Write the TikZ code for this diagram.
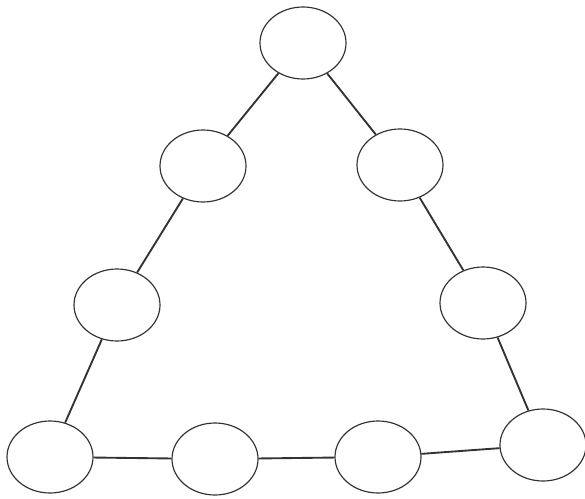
\documentclass[tikz,border=0pt]{standalone}
\usepackage{tikz}
\usetikzlibrary{shapes.geometric}

\begin{document}
\begin{tikzpicture}[
    x=0.03cm, y=-0.03cm,
    every node/.style={ellipse, draw=black!80, line width=1pt, minimum width=2.58cm, minimum height=2.16cm, inner sep=0pt, fill=white},
    edge line/.style={draw=black!80, line width=1.6pt}
]
\useasboundingbox (0,0) rectangle (585,498);
% circles round the triangle
\node (apex)   at (303,43)  {};
\node (left1)  at (203,166) {};
\node (left2)  at (117,305) {};
\node (base1)  at (50,457)  {};
\node (base2)  at (215,459) {};
\node (base3)  at (378,457) {};
\node (base4)  at (543,445) {};
\node (right2) at (483,303) {};
\node (right1) at (400,165) {};
% sides
\foreach \a/\b in {apex/left1, left1/left2, left2/base1, base1/base2, base2/base3, base3/base4, base4/right2, right2/right1, right1/apex}
    \path[edge line] (\a) -- (\b);
\end{tikzpicture}
\end{document}
